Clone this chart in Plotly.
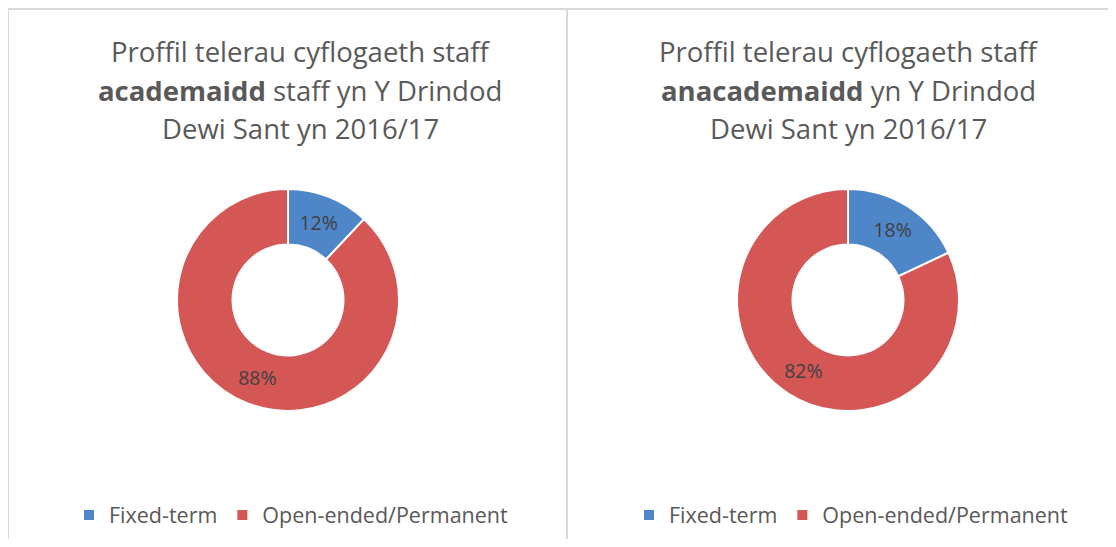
import plotly.graph_objects as go

categories = ["Fixed-term", "Open-ended/Permanent"]
academic_values = [12, 88]
nonacademic_values = [18, 82]
colors = ["#4F86C8", "#D45755"]

title_left = ["Proffil telerau cyflogaeth staff",
              "<b>academaidd</b> staff yn Y Drindod",
              "Dewi Sant yn 2016/17"]
title_right = ["Proffil telerau cyflogaeth staff",
               "<b>anacademaidd</b> yn Y Drindod",
               "Dewi Sant yn 2016/17"]

W, H = 1100, 531
FONT = "Open Sans"
TXT = "#595959"

def px_x(x):
    return x / W

def px_y(y):
    return 1 - y / H

R = 111
def domain(cx, cy):
    return dict(x=[px_x(cx - R), px_x(cx + R)], y=[px_y(cy + R), px_y(cy - R)])

# second chart's labels carry an invisible suffix so it gets its own legend entries
categories_right = [c + "\u200b" for c in categories]

fig = go.Figure()
fig.add_trace(go.Pie(
    labels=categories, values=academic_values, hole=0.5, sort=False,
    direction="clockwise", rotation=0, domain=domain(280, 292),
    marker=dict(colors=colors, line=dict(color="white", width=2)),
    textinfo="percent", textposition="inside", insidetextorientation="horizontal",
    textfont=dict(family=FONT, size=19.5, color="#404040"),
    legend="legend", hoverinfo="label+percent",
))
fig.add_trace(go.Pie(
    labels=categories_right, values=nonacademic_values, hole=0.5, sort=False,
    direction="clockwise", rotation=0, domain=domain(840, 292),
    marker=dict(colors=colors, line=dict(color="white", width=2)),
    textinfo="percent", textposition="inside", insidetextorientation="horizontal",
    textfont=dict(family=FONT, size=19.5, color="#404040"),
    legend="legend2", hoverinfo="label+percent",
))

annotations = []
for cx, lines in ((292, title_left), (840, title_right)):
    for i, line in enumerate(lines):
        annotations.append(dict(
            text=line, x=px_x(cx), y=px_y(44 + 38 * i), xref="paper", yref="paper",
            xanchor="center", yanchor="middle", showarrow=False,
            font=dict(family=FONT, size=27.5, color=TXT)))

shapes = [
    dict(type="line", xref="paper", yref="paper", x0=0, x1=1, y0=px_y(1), y1=px_y(1),
         line=dict(color="#D9D9D9", width=2)),
    dict(type="line", xref="paper", yref="paper", x0=px_x(0), x1=px_x(0), y0=0, y1=px_y(1),
         line=dict(color="#D9D9D9", width=2)),
    dict(type="line", xref="paper", yref="paper", x0=px_x(559), x1=px_x(559), y0=0, y1=px_y(1),
         line=dict(color="#D9D9D9", width=2)),
]

legend_common = dict(orientation="h", yanchor="middle", y=px_y(507), xanchor="left",
                     font=dict(family=FONT, size=21.5, color=TXT), bgcolor="rgba(0,0,0,0)")

fig.update_layout(
    width=W, height=H, margin=dict(l=0, r=0, t=0, b=0),
    paper_bgcolor="white", plot_bgcolor="white",
    showlegend=True,
    legend=dict(x=px_x(61), **legend_common),
    legend2=dict(x=px_x(621), **legend_common),
    annotations=annotations, shapes=shapes,
)

fig.write_html("out.html")
